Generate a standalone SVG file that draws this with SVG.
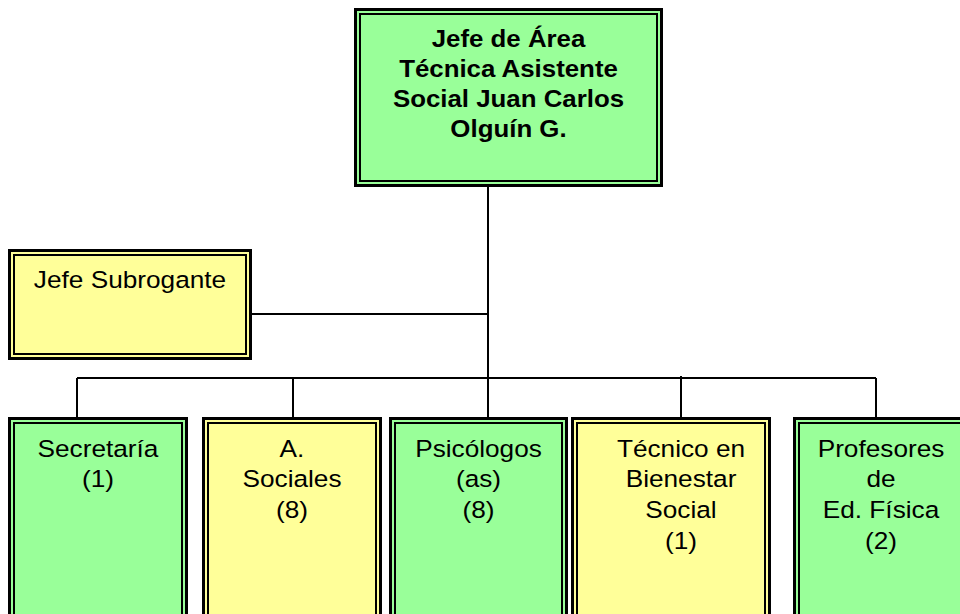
<svg xmlns="http://www.w3.org/2000/svg" width="960" height="614" viewBox="0 0 960 614">
<style>
.o{stroke:#000;stroke-width:3}
.i{fill:none;stroke:#000;stroke-width:2}
.g{fill:#99FF99}
.y{fill:#FFFF99}
.t{font-family:"Liberation Sans",Arial,sans-serif;font-size:24.5px;fill:#000;text-anchor:middle}
.b{font-family:"Liberation Sans",Arial,sans-serif;font-size:23.5px;font-weight:bold;fill:#000;text-anchor:middle}
.c{fill:none;stroke:#000;stroke-width:2}
</style>
<rect width="960" height="614" fill="#fff"/>
<g id="connectors">
<path class="c" d="M488 187V378M252 314H488M77 378H876M77 378V418M293 378V418M488 378V418M681 376V418M876 378V418"/>
</g>
<g id="jefe">
<rect class="o g" x="355.5" y="9.5" width="306" height="176"/>
<rect class="i" x="360" y="14" width="297" height="167"/>
<g transform="translate(508.5,0) scale(1.1,1)">
<text class="b" x="0" y="47">Jefe de Área</text>
<text class="b" x="0" y="77">Técnica Asistente</text>
<text class="b" x="0" y="107">Social Juan Carlos</text>
<text class="b" x="0" y="137">Olguín G.</text>
</g>
</g>
<g id="subrogante">
<rect class="o y" x="9.5" y="250.5" width="241" height="108"/>
<rect class="i" x="14" y="255" width="232" height="99"/>
<g transform="translate(130,0) scale(1.07,1)">
<text class="t" x="0" y="288">Jefe Subrogante</text>
</g>
</g>
<g id="secretaria">
<rect class="o g" x="9.5" y="418.5" width="177" height="230"/>
<rect class="i" x="14" y="423" width="168" height="230"/>
<g transform="translate(98,0) scale(1.07,1)">
<text class="t" x="0" y="457">Secretaría</text>
<text class="t" x="0" y="487">(1)</text>
</g>
</g>
<g id="sociales">
<rect class="o y" x="203.5" y="418.5" width="177" height="230"/>
<rect class="i" x="208" y="423" width="168" height="230"/>
<g transform="translate(292,0) scale(1.07,1)">
<text class="t" x="0" y="457">A.</text>
<text class="t" x="0" y="487">Sociales</text>
<text class="t" x="0" y="518">(8)</text>
</g>
</g>
<g id="psicologos">
<rect class="o g" x="390.5" y="418.5" width="176" height="230"/>
<rect class="i" x="395" y="423" width="167" height="230"/>
<g transform="translate(478.5,0) scale(1.07,1)">
<text class="t" x="0" y="457">Psicólogos</text>
<text class="t" x="0" y="487">(as)</text>
<text class="t" x="0" y="518">(8)</text>
</g>
</g>
<g id="tecnico">
<rect class="o y" x="572.5" y="418.5" width="197" height="230"/>
<rect class="i" x="577" y="423" width="188" height="230"/>
<g transform="translate(681,0) scale(1.07,1)">
<text class="t" x="0" y="457">Técnico en</text>
<text class="t" x="0" y="487">Bienestar</text>
<text class="t" x="0" y="518">Social</text>
<text class="t" x="0" y="549">(1)</text>
</g>
</g>
<g id="profesores">
<rect class="o g" x="794.5" y="418.5" width="190" height="230"/>
<rect class="i" x="799" y="423" width="181" height="230"/>
<g transform="translate(881,0) scale(1.07,1)">
<text class="t" x="0" y="457">Profesores</text>
<text class="t" x="0" y="487">de</text>
<text class="t" x="0" y="518">Ed. Física</text>
<text class="t" x="0" y="549">(2)</text>
</g>
</g>
</svg>
